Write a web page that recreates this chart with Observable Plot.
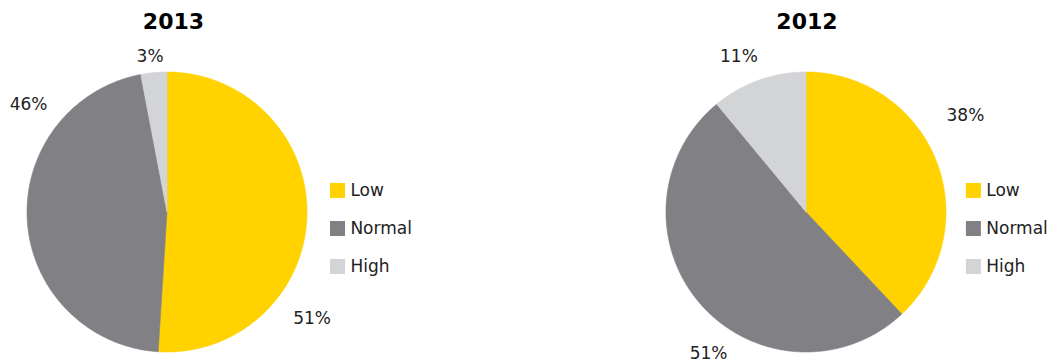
<!DOCTYPE html>
<html>
<head>
<meta charset="utf-8">
<script src="https://cdn.jsdelivr.net/npm/d3@7"></script>
<script src="https://cdn.jsdelivr.net/npm/@observablehq/plot@0.6"></script>
<style>
  html, body { margin: 0; padding: 0; background: #fff; }
  svg { overflow: visible; }
</style>
</head>
<body>
<div id="chart"></div>
<script>
// Share of items per level, by year (percent)
const years = ["2013", "2012"];
const levels = ["Low", "Normal", "High"];
const share2013 = [51, 46, 3];
const share2012 = [38, 51, 11];
const levelColors = ["#FFD200", "#818185", "#D3D4D6"];

// Layout (in pie-radius units): horizontal centre of each pie and its legend column
const panelCenter = [0, 4.564];
const titleShift = [0.046, 0.007];
const legendSwatchX = [1.218, 1.196];
const legendTextGap = 0.092;
const legendRowY = [0.154, -0.118, -0.389];
const titleY = 1.36;
// Percentage label offsets from each pie centre, per level
const labelOffset2013 = [[1.036, -0.764], [-0.989, 0.764], [-0.121, 1.107]];
const labelOffset2012 = [[1.139, 0.689], [-0.696, -1.011], [-0.479, 1.107]];

const shares = [share2013, share2012];
const labelOffsets = [labelOffset2013, labelOffset2012];

// Wedge outlines on a unit circle, clockwise from twelve o'clock
const wedges = [];
const labels = [];
const legend = [];
years.forEach((year, i) => {
  const cx = panelCenter[i];
  const arcs = d3.pie().sort(null).value(d => d)(shares[i]);
  arcs.forEach((a, j) => {
    const key = `${year}-${levels[j]}`;
    wedges.push({key, level: levels[j], x: cx, y: 0});
    const steps = Math.max(2, Math.ceil((a.endAngle - a.startAngle) / 0.01));
    for (let s = 0; s <= steps; ++s) {
      const t = a.startAngle + (a.endAngle - a.startAngle) * s / steps;
      wedges.push({key, level: levels[j], x: cx + Math.sin(t), y: Math.cos(t)});
    }
    wedges.push({key, level: levels[j], x: cx, y: 0});
    labels.push({
      x: cx + labelOffsets[i][j][0],
      y: labelOffsets[i][j][1],
      text: `${shares[i][j]}%`
    });
    legend.push({level: levels[j], x: cx + legendSwatchX[i], y: legendRowY[j]});
  });
});
const titles = years.map((year, i) => ({x: panelCenter[i] + titleShift[i], y: titleY, text: year}));

const chart = Plot.plot({
  width: 1057,
  height: 363,
  margin: 0,
  x: {domain: [-1, 1], range: [26.5, 306.5], axis: null},
  y: {domain: [-1, 1], range: [351.5, 71.5], axis: null},
  color: {domain: levels, range: levelColors},
  style: {fontFamily: "'DejaVu Sans', Verdana, sans-serif", background: "#fff"},
  marks: [
    Plot.line(wedges, {x: "x", y: "y", z: "key", fill: "level", stroke: "level", strokeWidth: 0.6, curve: "linear"}),
    Plot.text(labels, {x: "x", y: "y", text: "text", fontSize: 17, fill: "#222"}),
    Plot.text(titles, {x: "x", y: "y", text: "text", fontSize: 22, fontWeight: "bold", fill: "#000"}),
    Plot.dot(legend, {x: "x", y: "y", fill: "level", symbol: "square", r: 8.46, stroke: null}),
    Plot.text(legend, {x: d => d.x + legendTextGap, y: "y", text: "level", textAnchor: "start", fontSize: 17, fill: "#222"})
  ]
});
document.getElementById("chart").appendChild(chart);
</script>
</body>
</html>
